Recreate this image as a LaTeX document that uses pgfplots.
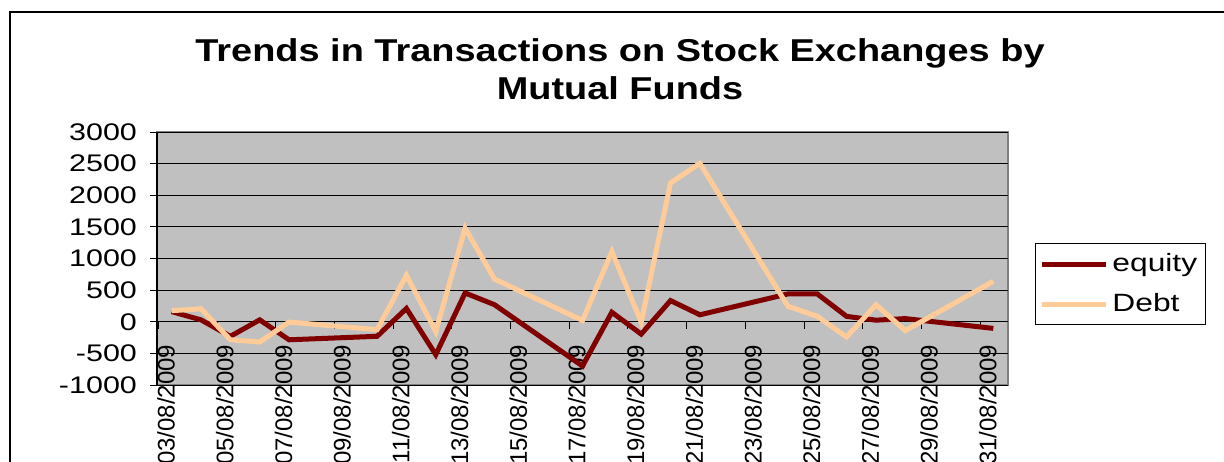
\documentclass[border=0pt]{standalone}
\usepackage{fontspec}
\setmainfont{Liberation Sans}[FakeStretch=1.2]
\newfontfamily\tickfont{Liberation Sans}[FakeStretch=1.27]
\newfontfamily\datefont{Liberation Sans}
\usepackage{pgfplots}
\pgfplotsset{compat=1.18}
\definecolor{equity}{HTML}{800000}
\definecolor{debt}{HTML}{FFCC99}
\definecolor{plotbg}{HTML}{C0C0C0}

\begin{document}
\begin{tikzpicture}
\useasboundingbox (0,0) rectangle (612pt,-230.5pt);
% chart area frame (runs past the crop on the right and bottom)
\draw[line width=0.8pt] (5pt,-300pt) -- (5pt,-6pt) -- (700pt,-6pt);
\node[font=\fontsize{15.8}{19}\selectfont\bfseries, align=center] at (310pt,-34.5pt)
  {Trends in Transactions on Stock Exchanges by\\Mutual Funds};
\begin{axis}[
    at={(78.5pt,-192.5pt)}, anchor=south west,
    scale only axis, width=425.5pt, height=126.5pt,
    xmin=2.5, xmax=31.5, ymin=-1000, ymax=3000,
    axis x line=middle, axis y line=left,
    axis line style={-, black, line width=0.6pt},
    axis background/.style={fill=plotbg, draw=gray, line width=1pt},
    ytick={-1000,-500,...,3000},
    ymajorgrids, grid style={black, line width=0.5pt},
    tick align=outside, major tick length=3.5pt,
    tick style={black, line width=0.5pt},
    xtick={2.55,4.55,...,30.55},
    xticklabels={03/08/2009,05/08/2009,07/08/2009,09/08/2009,11/08/2009,13/08/2009,15/08/2009,17/08/2009,19/08/2009,21/08/2009,23/08/2009,25/08/2009,27/08/2009,29/08/2009,31/08/2009},
    xticklabel style={xshift=3.8pt, yshift=-4.5pt, rotate=90, anchor=east,
      font=\datefont\fontsize{12}{14}\selectfont},
    yticklabel style={font=\tickfont\fontsize{12}{14}\selectfont, xshift=-3pt},
    /pgf/number format/assume math mode=true,
    /pgf/number format/1000 sep={},
    legend style={at={(1.0317,0.5613)}, anchor=north west, draw=black, line width=0.5pt,
      font=\tickfont\fontsize{12.5}{14}\selectfont, inner xsep=2pt, inner ysep=3pt, row sep=5.5pt},
    legend cell align=left,
    legend image code/.code={\draw[#1] (0pt,0pt) -- (32pt,0pt);},
]
\addplot[equity, line width=2.5pt] coordinates {
 (3,160) (4,30) (5,-230) (6,30) (7,-285) (10,-230) (11,210) (12,-520)
 (13,455) (14,270) (17,-700) (18,150) (19,-195) (20,335) (21,110)
 (24,440) (25,440) (26,85) (27,25) (28,50) (31,-105)};
\addlegendentry{equity}
\addplot[debt, line width=2.5pt] coordinates {
 (3,175) (4,205) (5,-285) (6,-320) (7,-5) (10,-125) (11,735) (12,-155)
 (13,1480) (14,675) (17,20) (18,1110) (19,-5) (20,2195) (21,2505)
 (24,245) (25,85) (26,-240) (27,270) (28,-140) (31,640)};
\addlegendentry{Debt}
\end{axis}
\end{tikzpicture}
\end{document}
